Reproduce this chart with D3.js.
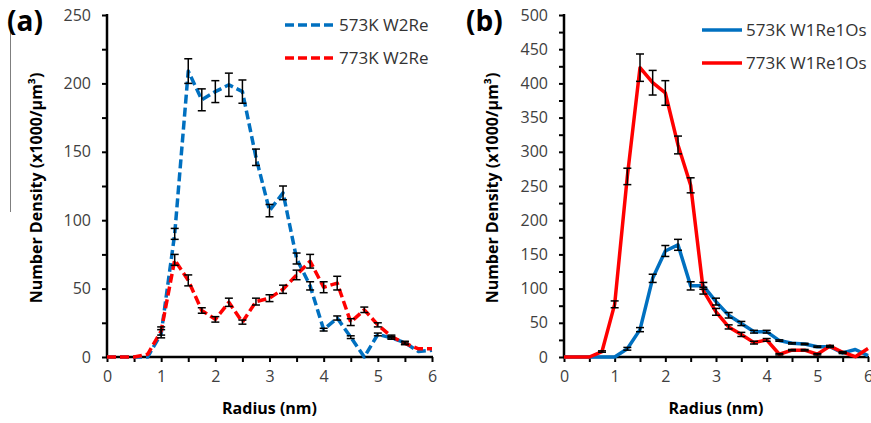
<!DOCTYPE html>
<html>
<head>
<meta charset="utf-8">
<script src="https://cdn.jsdelivr.net/npm/d3@7"></script>
<style>
  body { margin: 0; background: #fff; }
  svg { display: block; font-family: "Open Sans", sans-serif; }
</style>
</head>
<body>
<svg id="vis" width="871" height="423"></svg>
<script>
// radius bins (nm)
const radius = [0, 0.25, 0.5, 0.75, 1, 1.25, 1.5, 1.75, 2, 2.25, 2.5, 2.75, 3,
                3.25, 3.5, 3.75, 4, 4.25, 4.5, 4.75, 5, 5.25, 5.5, 5.75, 6];

// panel (a) W2Re
const a573 = [0, 0, 0, 0, 17, 90, 209, 188, 194, 199, 194, 146, 107,
              120, 72, 52, 20, 28.5, 14.5, 0, 16.5, 14, 10.5, 4, 5];
const a573err = [0, 0, 0, 0, 3, 4, 9, 8, 8, 8.5, 8.5, 6, 4.5,
                 5, 4, 3, 1, 1.5, 1, 0, 1, 1, 1, 0, 0];
const a773 = [0, 0, 0, 2, 19, 71, 56, 34, 27.5, 40, 25.5, 40.5, 43,
              49.5, 60, 70, 51, 54, 25.5, 34.5, 23.5, 15, 10, 6, 6];
const a773err = [0, 0, 0, 0, 3, 4, 4, 2, 2, 3, 1.5, 2.5, 2.5,
                 3, 3.5, 5, 4, 5, 2.5, 2, 1.5, 1, 1, 0, 0];

// panel (b) W1Re1Os
const b573 = [0, 0, 0, 0, 0, 12, 40, 115, 155, 164, 104, 104, 81,
              61, 49, 37, 37, 24, 20, 19, 15, 15, 6, 11, 2];
const b573err = [0, 0, 0, 0, 0, 2, 3, 6, 8, 8, 6, 5, 5,
                 4, 3, 2, 2, 1, 1, 1, 1, 1, 1, 0, 0];
const b773 = [0, 0, 0, 8, 77, 264, 423, 401, 386, 310, 251, 97, 66,
              44, 33, 21, 25, 4, 10, 10, 4, 16, 7, 0.5, 12.5];
const b773err = [0, 0, 0, 1, 5, 12, 20, 18, 18, 13, 11, 5, 5,
                 3, 3, 2, 2, 1, 1, 1, 1, 1, 1, 0, 0];

const xTicks = d3.range(0, 6.01, 0.5);

const BLUE = "#0070c0";
const RED = "#ff0000";

const svg = d3.select("#vis");

// stray grey rule at far left
svg.append("line")
    .attr("x1", 10.5).attr("x2", 10.5)
    .attr("y1", 30).attr("y2", 212)
    .attr("stroke", "#7f7f7f")
    .attr("stroke-width", 1);

function drawPanel(opt) {
    const x = d3.scaleLinear().domain([0, 6]).range([opt.left, opt.right]);
    const y = d3.scaleLinear().domain([0, opt.ymax]).range([357, 15]);
    const g = svg.append("g");

    // y axis: minor ticks every 25, labels every 50
    const yTicks = d3.range(0, opt.ymax + 1, 25);
    const yAxis = g.append("g")
        .attr("transform", "translate(" + opt.left + ",0)")
        .call(d3.axisLeft(y)
            .tickValues(yTicks)
            .tickSize(5)
            .tickPadding(11)
            .tickFormat(function(d) { return d % 50 === 0 ? d : ""; }));

    // x axis
    const xAxis = g.append("g")
        .attr("transform", "translate(0,357)")
        .call(d3.axisBottom(x)
            .tickValues(xTicks)
            .tickSize(5)
            .tickPadding(9)
            .tickFormat(function(d) { return Number.isInteger(d) ? d : ""; }));

    [xAxis, yAxis].forEach(function(ax) {
        ax.select(".domain").attr("stroke", "#000").attr("stroke-width", 2.5);
        ax.selectAll(".tick line").attr("stroke", "#000").attr("stroke-width", 2);
        ax.selectAll(".tick text")
            .attr("fill", "#404040")
            .style("font-size", "16px")
            .style("font-family", "Open Sans");
    });
    xAxis.select(".domain").attr("d", "M" + (opt.left - 1) + ",0H" + (opt.right + 1));
    yAxis.select(".domain").attr("d", "M0,14V358");

    // series lines
    const line = d3.line()
        .x(function(d, i) { return x(radius[i]); })
        .y(function(d) { return y(d); });

    opt.series.forEach(function(s) {
        g.append("path")
            .attr("d", line(s.values))
            .attr("fill", "none")
            .attr("stroke", s.color)
            .attr("stroke-width", 3.5)
            .attr("stroke-dasharray", opt.dash || null)
            .attr("stroke-linejoin", "round");
    });

    // error bars
    opt.series.forEach(function(s) {
        s.values.forEach(function(v, i) {
            const e = s.err[i];
            if (!e) return;
            const cx = x(radius[i]);
            const y1 = y(v + e), y2 = y(v - e);
            g.append("line")
                .attr("x1", cx).attr("x2", cx)
                .attr("y1", y1).attr("y2", y2)
                .attr("stroke", "#000").attr("stroke-width", 1.5);
            [y1, y2].forEach(function(yy) {
                g.append("line")
                    .attr("x1", cx - 4).attr("x2", cx + 4)
                    .attr("y1", yy).attr("y2", yy)
                    .attr("stroke", "#000").attr("stroke-width", 1.5);
            });
        });
    });

    // legend
    opt.series.forEach(function(s, i) {
        const ly = opt.legendY + i * 33;
        g.append("line")
            .attr("x1", opt.legendX).attr("x2", opt.legendX + opt.legendLen)
            .attr("y1", ly).attr("y2", ly)
            .attr("stroke", s.color)
            .attr("stroke-width", 3.5)
            .attr("stroke-dasharray", opt.dash || null);
        g.append("text")
            .attr("x", opt.legendX + opt.legendLen + 4)
            .attr("y", ly + 6)
            .attr("fill", "#333")
            .style("font-size", "17px")
            .text(s.name);
    });

    // axis titles
    g.append("text")
        .attr("transform", "translate(" + opt.titleX + ",188) rotate(-90)")
        .attr("text-anchor", "middle")
        .attr("fill", "#000")
        .style("font-size", "16px")
        .style("font-weight", "bold")
        .text("Number Density (x1000/µm³)");

    g.append("text")
        .attr("x", (opt.left + opt.right) / 2)
        .attr("y", 414)
        .attr("text-anchor", "middle")
        .attr("fill", "#000")
        .style("font-size", "16px")
        .style("font-weight", "bold")
        .text("Radius (nm)");

    // panel label
    g.append("text")
        .attr("x", opt.labelX)
        .attr("y", 31)
        .attr("fill", "#000")
        .style("font-size", "28px")
        .style("font-weight", "bold")
        .text(opt.label);
}

drawPanel({
    left: 107, right: 432, ymax: 250, titleX: 42,
    label: "(a)", labelX: 7,
    dash: "9,4",
    legendX: 285, legendY: 25, legendLen: 50,
    series: [
        {name: "573K W2Re", values: a573, err: a573err, color: BLUE},
        {name: "773K W2Re", values: a773, err: a773err, color: RED}
    ]
});

drawPanel({
    left: 564, right: 868, ymax: 500, titleX: 498,
    label: "(b)", labelX: 466,
    legendX: 702, legendY: 30, legendLen: 40,
    series: [
        {name: "573K W1Re1Os", values: b573, err: b573err, color: BLUE},
        {name: "773K W1Re1Os", values: b773, err: b773err, color: RED}
    ]
});
</script>
</body>
</html>
